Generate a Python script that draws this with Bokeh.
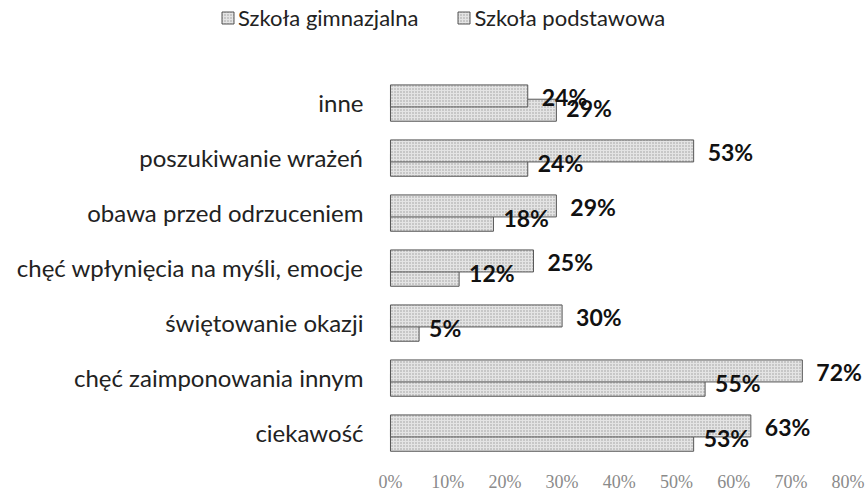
from bokeh.plotting import figure
from bokeh.models import ColumnDataSource, Legend, LegendItem, NumeralTickFormatter, FixedTicker
from bokeh.core.properties import value
from bokeh.embed import file_html
from bokeh.resources import INLINE

categories = ["ciekawość", "chęć zaimponowania innym", "świętowanie okazji",
              "chęć wpłynięcia na myśli, emocje", "obawa przed odrzuceniem",
              "poszukiwanie wrażeń", "inne"]
gimnazjalna = [63, 72, 30, 25, 29, 53, 24]
podstawowa = [53, 55, 5, 12, 18, 24, 29]
x_ticks = [0, 10, 20, 30, 40, 50, 60, 70, 80]

pos = list(range(len(categories)))
src_g = ColumnDataSource(dict(y=[q + 0.12 for q in pos], v=[g / 100 for g in gimnazjalna],
                              ly=[q + 0.1 for q in pos],
                              lab=[f"{g}%" for g in gimnazjalna]))
src_p = ColumnDataSource(dict(y=[q - 0.14 for q in pos], v=[g / 100 for g in podstawowa],
                              ly=[q - 0.1 for q in pos],
                              lab=[f"{g}%" for g in podstawowa]))
src_c = ColumnDataSource(dict(y=pos, x=[0] * len(pos), t=categories))

FW, FH = 858, 459
p = figure(frame_width=FW, frame_height=FH, x_range=(-0.6678, 0.8322), y_range=(-0.49, 7.855),
           output_backend="svg", toolbar_location=None, min_border=0, min_border_left=8)
p.outline_line_color = None
p.xgrid.grid_line_color = None
p.ygrid.grid_line_color = None
p.yaxis.visible = False

bar_style = dict(fill_color="#e4e4e4", line_color="#555555", line_width=1,
                 hatch_pattern="dot", hatch_color="#9a9a9a", hatch_scale=3, hatch_weight=1)
rp = p.hbar(y="y", right="v", left=0, height=0.4, source=src_p, **bar_style)
rg = p.hbar(y="y", right="v", left=0, height=0.4, source=src_g, **bar_style)

lab_style = dict(text_font=value("Lato"), text_font_size="23px", text_font_style="bold",
                 text_color="#111111", text_baseline="middle", text_align="left")
p.text(x="v", y="ly", text="lab", source=src_g, x_offset=14, **lab_style)
p.text(x="v", y="ly", text="lab", source=src_p, x_offset=10, **lab_style)

# category labels (y axis)
p.text(x="x", y="y", text="t", source=src_c, x_offset=-27, text_align="right",
       text_baseline="middle", text_font=value("Lato"), text_font_size="24px",
       text_color="#222222")

p.xaxis.ticker = FixedTicker(ticks=[t / 100 for t in x_ticks])
p.xaxis.formatter = NumeralTickFormatter(format="0%")
p.xaxis.axis_line_color = None
p.xaxis.major_tick_line_color = None
p.xaxis.minor_tick_line_color = None
p.xaxis.major_tick_out = 0
p.xaxis.minor_tick_out = 0
p.xaxis.major_label_text_font = "Liberation Serif"
p.xaxis.major_label_text_font_size = "18px"
p.xaxis.major_label_text_color = "#8a8a8a"
p.xaxis.major_label_standoff = 12

legend = Legend(items=[LegendItem(label="Szkoła gimnazjalna", renderers=[rg]),
                       LegendItem(label="Szkoła podstawowa", renderers=[rp])],
                orientation="horizontal", location=(212, FH - 31),
                label_text_font="Lato", label_text_font_size="22px",
                label_text_color="#222222", glyph_width=15, glyph_height=15,
                label_standoff=3, spacing=38, background_fill_alpha=0,
                border_line_color=None, padding=0, margin=0)
p.add_layout(legend, "center")

open("out.html", "w").write(file_html(p, INLINE))
